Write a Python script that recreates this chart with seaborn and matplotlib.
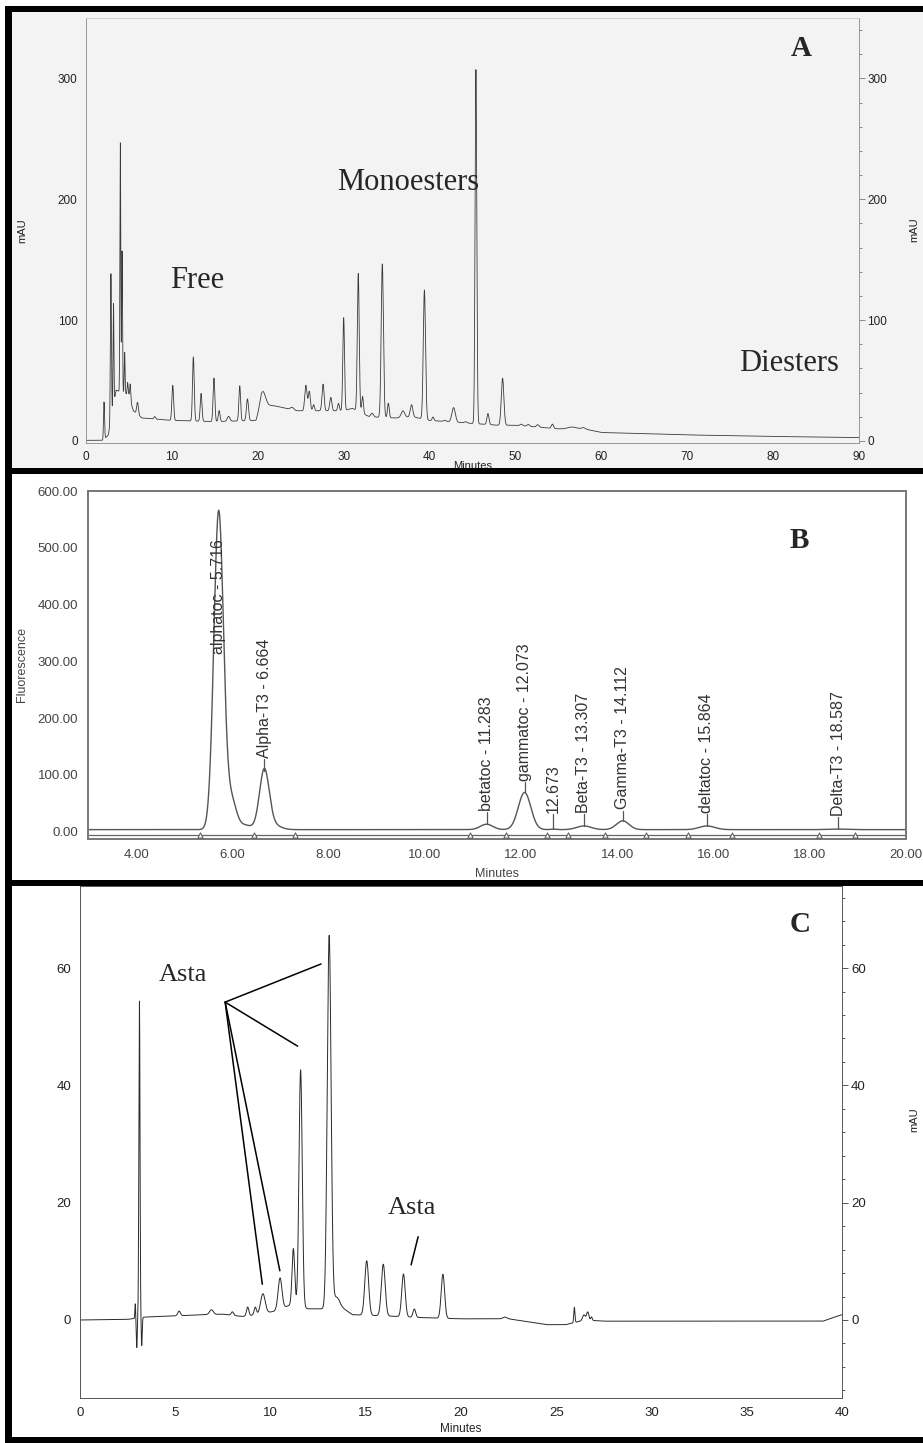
import numpy as np
import pandas as pd
import matplotlib
matplotlib.use("Agg")
import matplotlib.pyplot as plt
import seaborn as sns
from matplotlib.ticker import MultipleLocator, FormatStrFormatter
from matplotlib.patches import Rectangle

# ---------------- Panel A: carotenoid extract (free / mono- / diesters) ----------------
a_base_time = [0, 2.0, 2.6, 3.5, 5.0, 5.5, 6.5, 10, 15, 19.8, 20.4, 22, 24.5, 30, 31, 33, 36, 38, 40, 44, 46, 48,
               50, 55, 58, 60, 70, 80, 90]
a_base_level = [0.5, 0.5, 5, 42, 38, 25, 19, 17, 16, 17, 30, 29, 25, 25, 27, 20, 19, 20, 17, 15, 14, 13,
                13, 10, 10, 7, 5, 3.7, 2.8]
a_peak_time = [2.1, 2.9, 3.2, 4.0, 4.2, 4.5, 4.85, 5.15, 6.0, 8.0, 10.1, 12.5, 13.4, 14.9, 15.5, 16.6, 17.9,
               18.8, 20.6, 24.0, 25.6, 26.0, 26.5, 27.6, 28.5, 29.4, 30.0, 31.7, 32.2, 33.3, 34.5, 35.2,
               36.9, 37.9, 39.4, 40.4, 41.8, 42.8, 44.2, 45.4, 46.8, 48.5, 50.7, 51.5, 52.6, 54.3, 56.6, 57.9]
a_peak_height = [31, 121, 84, 206, 117, 34, 10, 13, 10, 2, 29, 53, 23, 36, 9, 4, 29,
                 18, 11, 2, 21, 16, 5, 22, 11, 6, 77, 114, 14, 3, 127, 12,
                 5.5, 10, 107, 3, 1, 12, 1, 293, 9, 39, 1.3, 1.5, 2, 3.5, 1.5, 1]
a_peak_width = [0.06, 0.06, 0.05, 0.05, 0.05, 0.05, 0.06, 0.06, 0.1, 0.1, 0.1, 0.1, 0.1, 0.1, 0.1, 0.15, 0.1,
                0.12, 0.3, 0.2, 0.13, 0.12, 0.1, 0.12, 0.12, 0.1, 0.1, 0.11, 0.1, 0.15, 0.13, 0.1,
                0.2, 0.15, 0.13, 0.1, 0.15, 0.2, 0.15, 0.1, 0.12, 0.15, 0.15, 0.15, 0.15, 0.12, 0.5, 0.2]
a_xticks = [0, 10, 20, 30, 40, 50, 60, 70, 80, 90]
a_yticks = [0, 100, 200, 300]

# ---------------- Panel B: tocopherols / tocotrienols, fluorescence ----------------
b_baseline = 3.5
b_peak_time = [5.716, 5.98, 6.25, 6.664, 6.85, 11.283, 12.073, 12.673, 13.307, 14.112, 15.864, 18.587]
b_peak_height = [561, 50, 8, 104, 8, 9.5, 65.5, 1, 6.5, 15.5, 6.5, 1]
b_peak_width = [0.1, 0.1, 0.15, 0.1, 0.15, 0.13, 0.13, 0.06, 0.15, 0.13, 0.16, 0.2]
b_label_text = ["alphatoc - 5.716", "Alpha-T3 - 6.664", "betatoc - 11.283", "gammatoc - 12.073", "12.673",
                "Beta-T3 - 13.307", "Gamma-T3 - 14.112", "deltatoc - 15.864", "Delta-T3 - 18.587"]
b_label_time = [5.716, 6.664, 11.283, 12.073, 12.673, 13.307, 14.112, 15.864, 18.587]
b_label_apex = [565, 107, 13, 69, 4.5, 10, 19, 10, 4.5]
b_label_bottom = [312, 130, 36, 89, 33, 33, 39, 33, 28]
b_event_time = [5.32, 6.44, 7.3, 10.93, 11.69, 12.54, 12.98, 13.74, 14.59, 15.46, 16.39, 18.2, 18.93]
b_xticks = [4, 6, 8, 10, 12, 14, 16, 18, 20]
b_yticks = [0, 100, 200, 300, 400, 500, 600]

# ---------------- Panel C: astaxanthin profile ----------------
c_base_time = [0, 2.5, 3.4, 5.0, 6.5, 7.5, 8.5, 9.5, 10.2, 11.0, 12.0, 12.8, 13.6, 14.3, 16, 18, 20, 22.5,
               23.5, 24.5, 25.5, 26.5, 27.5, 39, 39.6, 40]
c_base_level = [0, 0.1, 0.5, 0.7, 0.9, 1.0, 0.6, 1.0, 1.5, 2.5, 1.9, 1.9, 2.5, 0.9, 0.7, 0.4, 0.2, 0.2,
                -0.3, -0.8, -0.8, 0.0, -0.2, -0.2, 0.5, 0.9]
c_peak_time = [2.9, 2.98, 3.12, 3.24, 5.2, 6.9, 8.0, 8.8, 9.2, 9.6, 10.5, 11.2, 11.58, 13.08, 13.45,
               15.05, 15.92, 16.98, 17.55, 19.05, 22.3, 25.95, 26.45, 26.65, 26.85]
c_peak_height = [2.5, -5.0, 54.0, -4.8, 0.8, 0.8, 0.6, 1.5, 1.3, 3.4, 5.3, 9.8, 40.5, 63.4, 1.5,
                 9.3, 8.8, 7.3, 1.4, 7.5, 0.3, 2.6, 0.9, 1.4, 0.6]
c_peak_width = [0.02, 0.025, 0.03, 0.025, 0.07, 0.1, 0.06, 0.06, 0.06, 0.12, 0.1, 0.07, 0.085, 0.1, 0.15,
                0.1, 0.1, 0.09, 0.07, 0.09, 0.1, 0.03, 0.07, 0.06, 0.04]
c_xticks = [0, 5, 10, 15, 20, 25, 30, 35, 40]
c_yticks = [0, 20, 40, 60]
c_asta_text = [(5.4, 58.9), (17.4, 19.1)]
c_pointer_origin = (7.62, 54.2)
c_pointer_tips = [(12.65, 60.7), (11.42, 46.7), (10.49, 8.4), (9.57, 6.1)]
c_pointer_second = [(17.75, 14.2), (17.38, 9.4)]


def chromatogram(t, base_t, base_v, pk_t, pk_h, pk_w):
    signal = np.interp(t, base_t, base_v)
    for c, h, w in zip(pk_t, pk_h, pk_w):
        signal = signal + h * np.exp(-0.5 * ((t - c) / w) ** 2)
    return pd.DataFrame({"Minutes": t, "signal": signal})


sns.set_style("white")
plt.rcParams["font.family"] = ["Liberation Sans", "DejaVu Sans"]
SERIF = ["Liberation Serif", "DejaVu Serif"]

W, H = 923, 1443
fig = plt.figure(figsize=(W / 100, H / 100), dpi=100)
fig.patch.set_facecolor("white")


def box(l, t, r, b):
    return [l / W, 1 - b / H, (r - l) / W, (b - t) / H]


def fig_rect(l, t, r, b, color, z):
    fig.add_artist(Rectangle((l / W, 1 - b / H), (r - l) / W, (b - t) / H,
                             transform=fig.transFigure, facecolor=color, edgecolor="none", zorder=z))


# scanned-paper tint behind panel A
fig_rect(12, 12, W, 468, "#f3f3f3", -5)

# ======================= Panel A =======================
axA = fig.add_axes(box(86, 18, 859, 443))
axA.set_facecolor("none")
dfA = chromatogram(np.linspace(0, 90, 18001), a_base_time, a_base_level,
                   a_peak_time, a_peak_height, a_peak_width)
sns.lineplot(data=dfA, x="Minutes", y="signal", ax=axA, color="#3a3a3a", linewidth=0.6,
             estimator=None, sort=False)
axA.set_xlim(0, 90)
axA.set_ylim(-1.7, 350)
axA.set_xticks(a_xticks)
axA.set_yticks(a_yticks)
axA.xaxis.set_minor_locator(MultipleLocator(2))
axA.yaxis.set_minor_locator(MultipleLocator(20))
for s in axA.spines.values():
    s.set_color("#8a8a8a")
    s.set_linewidth(0.6)
axA.spines["top"].set_color("#c8c8c8")
axA.tick_params(which="both", direction="out", color="#777777", width=0.6, right=True, labelright=True,
                labelsize=8.5, labelcolor="#222222")
axA.tick_params(which="major", length=4, pad=2)
axA.tick_params(which="minor", length=2)
axA.set_xlabel("Minutes", fontsize=8, color="#222222")
axA.xaxis.set_label_coords(0.5, -0.054)
axA.xaxis.label.set_va("center")
axA.set_ylabel("mAU", fontsize=8, color="#222222")
axA.yaxis.set_label_coords(-0.082, 0.5)
axA.yaxis.label.set_va("center")
fig.text(914 / W, 1 - 230 / H, "mAU", rotation=90, fontsize=8, color="#222222", ha="center", va="center")

axA.text(12.95, 133, "Free", fontsize=22, family=SERIF, ha="center", va="center")
axA.text(37.5, 214, "Monoesters", fontsize=22, family=SERIF, ha="center", va="center")
axA.text(81.9, 64, "Diesters", fontsize=22, family=SERIF, ha="center", va="center")
axA.text(83.3, 325, "A", fontsize=21, family=SERIF, fontweight="bold", ha="center", va="center")

# ======================= Panel B =======================
axB = fig.add_axes(box(88, 491, 906, 839))
axB.set_facecolor("white")
dfB = chromatogram(np.linspace(3, 20, 6801), [3, 20], [b_baseline, b_baseline],
                   b_peak_time, b_peak_height, b_peak_width)
sns.lineplot(data=dfB, x="Minutes", y="signal", ax=axB, color="#555555", linewidth=1.0,
             estimator=None, sort=False)
axB.axhline(-6, color="#666666", linewidth=0.9)
axB.scatter(b_event_time, [-6] * len(b_event_time), marker="^", s=14, facecolor="white",
            edgecolor="#555555", linewidth=0.7, zorder=3)
for t, apex, bottom, txt in zip(b_label_time, b_label_apex, b_label_bottom, b_label_text):
    if bottom > apex:
        axB.plot([t, t], [apex, bottom - 2], color="#555555", linewidth=0.9)
    axB.text(t, bottom, txt, rotation=90, fontsize=11.5, color="#333333", ha="center", va="bottom")
axB.set_xlim(3, 20)
axB.set_ylim(-13, 600)
axB.set_xticks(b_xticks)
axB.set_yticks(b_yticks)
axB.xaxis.set_major_formatter(FormatStrFormatter("%.2f"))
axB.yaxis.set_major_formatter(FormatStrFormatter("%.2f"))
axB.xaxis.set_minor_locator(MultipleLocator(0.5))
axB.yaxis.set_minor_locator(MultipleLocator(20))
for s in axB.spines.values():
    s.set_color("#777777")
    s.set_linewidth(1.4)
axB.tick_params(which="both", direction="out", color="#666666", width=1.0, labelsize=9.5,
                labelcolor="#444444")
axB.tick_params(which="major", length=5, pad=2)
axB.tick_params(which="minor", length=3)
axB.set_xlabel("Minutes", fontsize=9, color="#444444")
axB.xaxis.set_label_coords(0.5, -0.10)
axB.xaxis.label.set_va("center")
axB.set_ylabel("Fluorescence", fontsize=9, color="#444444")
axB.yaxis.set_label_coords(-0.081, 0.5)
axB.yaxis.label.set_va("center")
axB.text(17.78, 512, "B", fontsize=21, family=SERIF, fontweight="bold", ha="center", va="center")

# ======================= Panel C =======================
axC = fig.add_axes(box(80, 886, 842, 1398))
axC.set_facecolor("white")
dfC = chromatogram(np.linspace(0, 40, 16001), c_base_time, c_base_level,
                   c_peak_time, c_peak_height, c_peak_width)
sns.lineplot(data=dfC, x="Minutes", y="signal", ax=axC, color="#2a2a2a", linewidth=0.7,
             estimator=None, sort=False)
axC.set_xlim(0, 40)
axC.set_ylim(-13.3, 74)
axC.set_xticks(c_xticks)
axC.set_yticks(c_yticks)
axC.xaxis.set_minor_locator(MultipleLocator(1))
axC.yaxis.set_minor_locator(MultipleLocator(4))
for s in axC.spines.values():
    s.set_color("#555555")
    s.set_linewidth(0.7)
axC.tick_params(which="both", direction="out", color="#555555", width=0.7, right=True, labelright=True,
                labelsize=9.5, labelcolor="#222222")
axC.tick_params(which="major", length=4, pad=2.5)
axC.tick_params(which="minor", length=2)
axC.set_xlabel("Minutes", fontsize=8.5, color="#222222")
axC.xaxis.set_label_coords(0.5, -0.061)
axC.xaxis.label.set_va("center")
axC.set_ylabel("")
fig.text(914 / W, 1 - 1120 / H, "mAU", rotation=90, fontsize=8, color="#222222", ha="center", va="center")

for x, y in c_asta_text:
    axC.text(x, y, "Asta", fontsize=19, family=SERIF, ha="center", va="center")
ox, oy = c_pointer_origin
for tx, ty in c_pointer_tips:
    axC.plot([ox, tx], [oy, ty], color="black", linewidth=1.1)
axC.plot([p[0] for p in c_pointer_second], [p[1] for p in c_pointer_second], color="black", linewidth=1.1)
axC.text(37.8, 67.4, "C", fontsize=21, family=SERIF, fontweight="bold", ha="center", va="center")

# ======================= black panel frames =======================
fig_rect(5, 6, 12, H, "black", 20)        # left edge
fig_rect(5, 6, W, 12, "black", 20)        # top edge
fig_rect(5, 468, W, 474, "black", 20)     # A / B divider
fig_rect(5, 880, W, 886, "black", 20)     # B / C divider
fig_rect(5, 1437, W, H, "black", 20)      # bottom edge

fig.savefig("out.png", dpi=100)
